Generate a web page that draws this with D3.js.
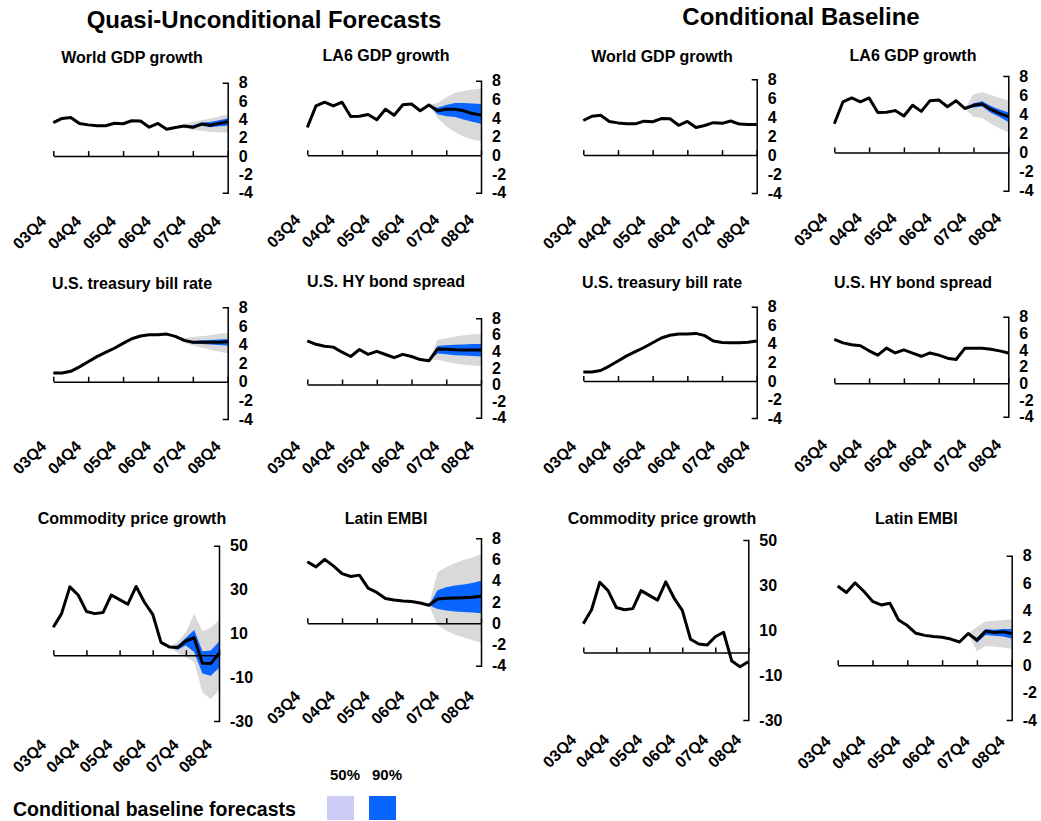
<!DOCTYPE html>
<html>
<head>
<meta charset="utf-8">
<script src="https://cdn.jsdelivr.net/npm/d3@7"></script>
<style>
  body { margin: 0; background: #fff; }
  svg text { font-family: Arial, "Liberation Sans", Helvetica, sans-serif; font-weight: bold; fill: #000; }
</style>
</head>
<body>
<svg id="chart" width="1041" height="821"></svg>
<script>
// Quarterly axis: 03Q4 .. 08Q4 (21 quarters), labelled every fourth quarter
const quarterTicks = [0, 4, 8, 12, 16, 20];
const quarterLabels = ["03Q4", "04Q4", "05Q4", "06Q4", "07Q4", "08Q4"];
const rateTicks = [-4, -2, 0, 2, 4, 6, 8];
const commodityTicks = [-30, -10, 10, 30, 50];

// Observed history, 03Q4 .. 07Q2
const worldGdpHist = [3.65, 4.1, 4.2, 3.55, 3.4, 3.3, 3.3, 3.58, 3.52, 3.85, 3.83, 3.15, 3.55, 2.92, 3.12];
const la6GdpHist = [3.0, 5.3, 5.7, 5.3, 5.7, 4.17, 4.2, 4.38, 3.81, 4.94, 4.3, 5.42, 5.5, 4.78, 5.4];
const tbillHist = [0.95, 0.95, 1.12, 1.6, 2.15, 2.7, 3.15, 3.6, 4.12, 4.62, 4.92, 5.05, 5.05, 5.12, 4.88];
const hySpreadHist = [5.28, 4.86, 4.63, 4.52, 3.91, 3.39, 4.23, 3.65, 4.01, 3.63, 3.25, 3.65, 3.39, 3.02, 2.87];
const commodityHist = [12.8, 19.0, 31.2, 27.5, 20.0, 19.0, 19.5, 27.5, 25.4, 23.3, 31.4, 24.2, 18.7, 5.9, 3.8];
const embiHist = [5.79, 5.31, 6.02, 5.4, 4.67, 4.4, 4.53, 3.3, 2.9, 2.33, 2.18, 2.1, 2.04, 1.91, 1.7];

// Quasi-unconditional median paths, 07Q3 .. 08Q4
const worldGdpQuasi = [3.27, 3.13, 3.49, 3.35, 3.56, 3.74];
const la6GdpQuasi = [4.77, 4.95, 4.95, 4.77, 4.48, 4.33];
const tbillQuasi = [4.45, 4.25, 4.25, 4.25, 4.25, 4.3];
const hySpreadQuasi = [4.3, 4.25, 4.2, 4.18, 4.17, 4.17];
const commodityQuasi = [3.5, 6.5, 8.0, -3.7, -3.8, 0.8];
const embiQuasi = [2.29, 2.35, 2.38, 2.41, 2.44, 2.54];

// Conditional baseline paths, 07Q3 .. 08Q4
const worldGdpCond = [3.42, 3.35, 3.6, 3.27, 3.24, 3.24];
const la6GdpCond = [4.6, 4.93, 5.07, 4.5, 4.1, 3.74];
const tbillCond = [4.3, 4.15, 4.12, 4.12, 4.16, 4.3];
const hySpreadCond = [4.2, 4.22, 4.22, 4.1, 3.9, 3.65];
const commodityCond = [3.3, 7.0, 9.0, -3.8, -6.3, -4.1];
const embiCond = [2.32, 1.83, 2.49, 2.39, 2.44, 2.32];

// Quasi-unconditional fan bands, 07Q2 .. 08Q4 (wide band and narrow band)
const worldGdpQuasiWideLo = [3.12, 3.05, 2.85, 2.75, 2.65, 2.6, 2.55];
const worldGdpQuasiWideHi = [3.12, 3.5, 3.7, 3.9, 4.1, 4.3, 4.55];
const worldGdpQuasiNarrowLo = [3.12, 3.2, 3.0, 3.3, 3.15, 3.25, 3.3];
const worldGdpQuasiNarrowHi = [3.12, 3.35, 3.35, 3.65, 3.7, 3.9, 4.1];

const la6GdpQuasiWideLo = [5.4, 4.0, 3.1, 2.5, 2.0, 1.7, 1.5];
const la6GdpQuasiWideHi = [5.4, 5.6, 6.2, 6.7, 6.9, 7.05, 7.15];
const la6GdpQuasiNarrowLo = [5.4, 4.4, 4.2, 4.1, 3.85, 3.6, 3.4];
const la6GdpQuasiNarrowHi = [5.4, 5.1, 5.4, 5.6, 5.6, 5.55, 5.5];

const tbillQuasiWideLo = [4.88, 4.2, 3.9, 3.65, 3.45, 3.25, 3.05];
const tbillQuasiWideHi = [4.88, 4.7, 4.8, 4.9, 5.0, 5.15, 5.25];
const tbillQuasiNarrowLo = [4.88, 4.38, 4.12, 4.05, 4.0, 3.95, 3.9];
const tbillQuasiNarrowHi = [4.88, 4.52, 4.35, 4.45, 4.5, 4.55, 4.6];

const hySpreadQuasiWideLo = [2.87, 3.0, 2.75, 2.55, 2.4, 2.3, 2.2];
const hySpreadQuasiWideHi = [2.87, 5.4, 5.6, 5.8, 5.95, 6.05, 6.1];
const hySpreadQuasiNarrowLo = [2.87, 3.75, 3.65, 3.55, 3.5, 3.45, 3.4];
const hySpreadQuasiNarrowHi = [2.87, 4.65, 4.75, 4.8, 4.85, 4.9, 4.9];

const commodityQuasiWideLo = [3.8, 1.0, -1.0, -3.0, -17.0, -20.0, -16.0];
const commodityQuasiWideHi = [3.8, 6.0, 10.5, 19.0, 11.0, 12.5, 16.0];
const commodityQuasiNarrowLo = [3.8, 2.5, 4.5, 1.5, -8.3, -9.3, -5.8];
const commodityQuasiNarrowHi = [3.8, 4.5, 8.0, 11.5, 1.8, 2.2, 6.2];

const embiQuasiWideLo = [1.7, -0.2, -0.7, -1.05, -1.35, -1.6, -1.85];
const embiQuasiWideHi = [1.7, 4.8, 5.3, 5.65, 5.95, 6.2, 6.5];
const embiQuasiNarrowLo = [1.7, 1.35, 1.2, 1.1, 1.05, 1.0, 0.95];
const embiQuasiNarrowHi = [1.7, 3.1, 3.4, 3.55, 3.65, 3.8, 4.0];

// Conditional baseline fan bands, 07Q3 .. 08Q4
const la6GdpCondWideLo = [4.6, 3.7, 3.6, 3.0, 2.5, 2.1];
const la6GdpCondWideHi = [4.6, 6.1, 6.3, 6.0, 5.7, 5.4];
const la6GdpCondNarrowLo = [4.6, 4.7, 4.8, 4.15, 3.7, 3.2];
const la6GdpCondNarrowHi = [4.6, 5.15, 5.35, 4.85, 4.5, 4.2];

const embiCondWideLo = [2.32, 1.0, 1.4, 1.35, 1.3, 1.2];
const embiCondWideHi = [2.32, 2.8, 3.2, 3.25, 3.3, 3.35];
const embiCondNarrowLo = [2.32, 1.65, 2.2, 2.15, 2.1, 1.95];
const embiCondNarrowHi = [2.32, 2.0, 2.65, 2.6, 2.65, 2.65];

const wideColor = "#d9d9d9";
const narrowColor = "#0a64ff";
const legendLightColor = "#ccccf7";

function bandOf(start, lo, hi) {
  return lo.map((v, k) => ({ q: start + k, lo: v, hi: hi[k] }));
}

const panels = [
  { title: "World GDP growth", hist: worldGdpHist, fcst: worldGdpQuasi,
    wide: bandOf(14, worldGdpQuasiWideLo, worldGdpQuasiWideHi), narrow: bandOf(14, worldGdpQuasiNarrowLo, worldGdpQuasiNarrowHi),
    ticks: rateTicks, box: [53.3, 227.7, 82.7, 192.7], titleY: 63, labelY: 222.5 },
  { title: "LA6 GDP growth", hist: la6GdpHist, fcst: la6GdpQuasi,
    wide: bandOf(14, la6GdpQuasiWideLo, la6GdpQuasiWideHi), narrow: bandOf(14, la6GdpQuasiNarrowLo, la6GdpQuasiNarrowHi),
    ticks: rateTicks, box: [307.3, 481, 80.7, 192.7], titleY: 61, labelY: 221 },
  { title: "World GDP growth", hist: worldGdpHist, fcst: worldGdpCond,
    ticks: rateTicks, box: [583.3, 756.7, 79.3, 193], titleY: 62, labelY: 222.5 },
  { title: "LA6 GDP growth", hist: la6GdpHist, fcst: la6GdpCond,
    wide: bandOf(15, la6GdpCondWideLo, la6GdpCondWideHi), narrow: bandOf(15, la6GdpCondNarrowLo, la6GdpCondNarrowHi),
    ticks: rateTicks, box: [834.3, 1008.3, 76, 190.7], titleY: 61, labelY: 219.5 },

  { title: "U.S. treasury bill rate", hist: tbillHist, fcst: tbillQuasi,
    wide: bandOf(14, tbillQuasiWideLo, tbillQuasiWideHi), narrow: bandOf(14, tbillQuasiNarrowLo, tbillQuasiNarrowHi),
    ticks: rateTicks, box: [53.3, 227.7, 307.3, 419], titleY: 289, labelY: 447.5 },
  { title: "U.S. HY bond spread", hist: hySpreadHist, fcst: hySpreadQuasi,
    wide: bandOf(14, hySpreadQuasiWideLo, hySpreadQuasiWideHi), narrow: bandOf(14, hySpreadQuasiNarrowLo, hySpreadQuasiNarrowHi),
    ticks: rateTicks, box: [307.3, 481, 318.3, 417.7], titleY: 287, labelY: 447.5 },
  { title: "U.S. treasury bill rate", hist: tbillHist, fcst: tbillCond,
    ticks: rateTicks, box: [583.3, 756.7, 306.7, 418], titleY: 288, labelY: 447.5 },
  { title: "U.S. HY bond spread", hist: hySpreadHist, fcst: hySpreadCond,
    ticks: rateTicks, box: [834.3, 1008.3, 316.7, 416.7], titleY: 288, labelY: 446 },

  { title: "Commodity price growth", hist: commodityHist, fcst: commodityQuasi,
    wide: bandOf(14, commodityQuasiWideLo, commodityQuasiWideHi), narrow: bandOf(14, commodityQuasiNarrowLo, commodityQuasiNarrowHi),
    ticks: commodityTicks, box: [53.3, 219, 545.7, 721], titleY: 524, labelY: 746 },
  { title: "Latin EMBI", hist: embiHist, fcst: embiQuasi,
    wide: bandOf(14, embiQuasiWideLo, embiQuasiWideHi), narrow: bandOf(14, embiQuasiNarrowLo, embiQuasiNarrowHi),
    ticks: rateTicks, box: [307.3, 481, 538.3, 665.7], titleY: 523.5, labelY: 697.5 },
  { title: "Commodity price growth", hist: commodityHist, fcst: commodityCond,
    ticks: commodityTicks, box: [583.3, 748.3, 540, 720], titleY: 524, labelY: 741 },
  { title: "Latin EMBI", hist: embiHist, fcst: embiCond,
    wide: bandOf(15, embiCondWideLo, embiCondWideHi), narrow: bandOf(15, embiCondNarrowLo, embiCondNarrowHi),
    ticks: rateTicks, box: [837.7, 1011.7, 555.7, 720], titleY: 523.5, labelY: 742.5 }
];

const svg = d3.select("#chart");

// Block headings
svg.append("text").attr("x", 264).attr("y", 28).attr("text-anchor", "middle")
  .style("font-size", "24px").text("Quasi-Unconditional Forecasts");
svg.append("text").attr("x", 801).attr("y", 25).attr("text-anchor", "middle")
  .style("font-size", "24px").text("Conditional Baseline");

panels.forEach(p => {
  const [x0, x1, yTop, yBot] = p.box;
  const dom = d3.extent(p.ticks);
  const x = d3.scaleLinear().domain([0, 20]).range([x0, x1]);
  const y = d3.scaleLinear().domain(dom).range([yBot, yTop]);
  const g = svg.append("g");

  g.append("text").attr("x", x0 + 78.7).attr("y", p.titleY).attr("text-anchor", "middle")
    .style("font-size", "16px").text(p.title);

  const area = d3.area().x(d => x(d.q)).y0(d => y(d.lo)).y1(d => y(d.hi));
  if (p.wide) g.append("path").datum(p.wide).attr("d", area).attr("fill", wideColor);
  if (p.narrow) g.append("path").datum(p.narrow).attr("d", area).attr("fill", narrowColor);

  // Horizontal zero line with upward quarter ticks
  const xAxis = d3.axisTop(x).tickValues(quarterTicks).tickFormat("").tickSizeInner(5).tickSizeOuter(0);
  g.append("g").attr("transform", `translate(0,${y(0)})`).call(xAxis)
    .call(s => s.selectAll("path,line").attr("stroke", "#000").attr("stroke-width", 1.5));

  // Value axis on the right: end caps pointing inward, plain hyphen for negatives
  const yAxis = d3.axisRight(y).tickValues(p.ticks).tickFormat(v => String(v))
    .tickSizeInner(0).tickSizeOuter(-5).tickPadding(11);
  g.append("g").attr("transform", `translate(${x1},0)`).call(yAxis)
    .call(s => s.selectAll("path,line").attr("stroke", "#000").attr("stroke-width", 1.5))
    .call(s => s.selectAll("text").attr("fill", "#000").style("font-size", "16px")
      .style("font-family", "Arial, 'Liberation Sans', sans-serif").style("font-weight", "bold"));

  // Rotated quarter labels
  g.selectAll(".ql").data(quarterTicks).join("text")
    .attr("text-anchor", "end")
    .attr("transform", q => `translate(${x(q) - 6},${p.labelY}) rotate(-45)`)
    .style("font-size", "16px")
    .text((q, k) => quarterLabels[k]);

  // Median path: history followed by forecast
  const series = p.hist.concat(p.fcst);
  const line = d3.line().x((v, k) => x(k)).y(v => y(v));
  g.append("path").datum(series).attr("d", line).attr("fill", "none")
    .attr("stroke", "#000").attr("stroke-width", 3).attr("stroke-linejoin", "round");
});

// Legend
svg.append("text").attr("x", 13).attr("y", 816).style("font-size", "19.5px").text("Conditional baseline forecasts");
const legendItems = [
  { label: "50%", color: legendLightColor, x: 327 },
  { label: "90%", color: narrowColor, x: 369 }
];
legendItems.forEach(it => {
  svg.append("rect").attr("x", it.x).attr("y", 796).attr("width", 27).attr("height", 24).attr("fill", it.color);
  svg.append("text").attr("x", it.x + 18).attr("y", 780).attr("text-anchor", "middle")
    .style("font-size", "15px").text(it.label);
});
</script>
</body>
</html>
